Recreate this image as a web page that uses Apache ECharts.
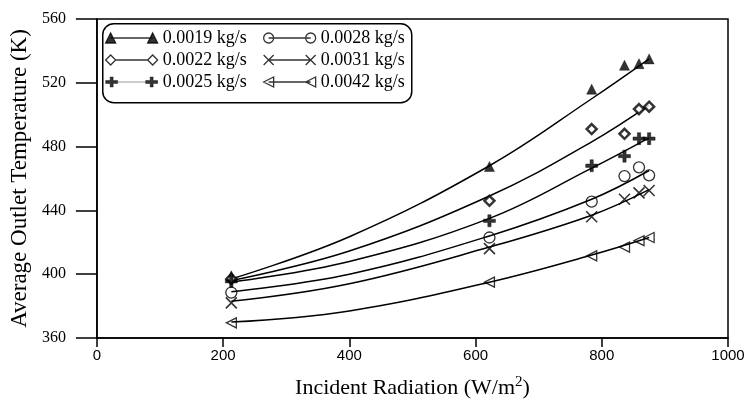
<!DOCTYPE html>
<html>
<head>
<meta charset="utf-8">
<script src="https://cdn.jsdelivr.net/npm/echarts@6/dist/echarts.min.js"></script>
<style>html,body{margin:0;padding:0;background:#fff}#c{width:753px;height:419px}</style>
</head>
<body>
<div id="c"></div>
<script>
// ---- data ----
var radiation = [213, 622, 784, 836, 859, 875];
var names = ['0.0019 kg/s', '0.0022 kg/s', '0.0025 kg/s', '0.0028 kg/s', '0.0031 kg/s', '0.0042 kg/s'];
var t0019 = [399, 467.5, 516, 531, 532, 535];
var t0022 = [397, 446, 491, 488, 503.5, 505];
var t0025 = [395.5, 433.5, 468, 474, 485, 485];
var t0028 = [388.5, 423, 445.5, 461.5, 467, 462];
var t0031 = [382, 416, 436, 447, 451, 452.5];
var t0042 = [369.5, 395, 411.5, 417, 421, 423];
// fitted curves, values
var fitX = [213, 400, 622, 784, 875];
var f0019 = [397, 423.5, 468, 510, 535];
var f0022 = [396, 414.5, 449, 483, 506];
var f0025 = [395, 408, 435, 466.5, 485.5];
var f0028 = [389, 400, 424, 447, 465];
var f0031 = [383, 394, 417, 437, 453];
var f0042 = [370, 377, 395, 412, 423];
var xTicks = [0, 200, 400, 600, 800, 1000];
var yTicks = [360, 400, 440, 480, 520, 560];

function pairs(xs, ys) { return xs.map(function (x, i) { return [x, ys[i]]; }); }

var serif = 'Liberation Serif';
var sans = 'Liberation Sans';

var markerDefs = [
  { symbol: 'triangle', size: 10, style: { color: '#000', borderColor: '#000', borderWidth: 0.5 } },
  { symbol: 'diamond', size: 10, style: { color: '#fff', borderColor: '#000', borderWidth: 2.5 } },
  { symbol: 'path://M4,0h3v4h4v3h-4v4h-3v-4h-4v-3h4z', size: 12, style: { color: '#000', borderColor: '#000', borderWidth: 0.5 } },
  { symbol: 'circle', size: 11, style: { color: 'transparent', borderColor: '#000', borderWidth: 1.3 } },
  { symbol: 'path://M0,0L10,10M10,0L0,10', size: 11, style: { color: 'transparent', borderColor: '#000', borderWidth: 1.6 } },
  { symbol: 'path://M0,5L10,0L10,10Z', size: 10, style: { color: 'transparent', borderColor: '#000', borderWidth: 1.3 } }
];
var legendIcons = [
  'path://M0,10L5,0L10,10ZM5,5L47,5M42,10L47,0L52,10Z',
  'path://M0,5L5,0L10,5L5,10ZM10,5L42,5M42,5L47,0L52,5L47,10Z',
  'path://M4.5,0h3v3.5h4.5v3h-4.5v3.5h-3v-3.5h-4.5v-3h4.5zM12,5L40,5M44.5,0h3v3.5h4.5v3h-4.5v3.5h-3v-3.5h-4.5v-3h4.5z',
  'path://M0,5a5,5 0 1,0 10,0a5,5 0 1,0 -10,0ZM5,5L47,5M42,5a5,5 0 1,0 10,0a5,5 0 1,0 -10,0Z',
  'path://M0,0L10,10M10,0L0,10M5,5L47,5M42,0L52,10M52,0L42,10',
  'path://M0,5L10,0L10,10ZM5,5L47,5M42,5L52,0L52,10Z'
];
var legendFill = ['#000', '#fff', '#000', 'transparent', 'transparent', 'transparent'];

var scatterData = [t0019, t0022, t0025, t0028, t0031, t0042];
var fitData = [f0019, f0022, f0025, f0028, f0031, f0042];

var series = [];
fitData.forEach(function (f, i) {
  series.push({
    name: 'fit ' + names[i], type: 'line', data: pairs(fitX, f), smooth: 0.4,
    showSymbol: false, silent: true, z: 1,
    lineStyle: { color: '#000', width: 1.5 }
  });
});
scatterData.forEach(function (d, i) {
  series.push({
    name: names[i], type: 'scatter', data: pairs(radiation, d), z: 3,
    symbol: markerDefs[i].symbol, symbolSize: markerDefs[i].size,
    itemStyle: markerDefs[i].style
  });
});

var legendData = names.map(function (n, i) {
  return {
    name: n, icon: legendIcons[i],
    itemStyle: { color: legendFill[i], borderColor: '#000', borderWidth: i === 2 ? 0.5 : 1.3 }
  };
});
function legendCol(items, left) {
  return {
    data: items, orient: 'vertical', left: left, top: 29,
    itemWidth: 52, itemHeight: 10, itemGap: 4, itemTextGap: 7, padding: 0,
    textStyle: { fontFamily: serif, fontSize: 18, lineHeight: 18, color: '#000' },
    selectedMode: false
  };
}

var chart = echarts.init(document.getElementById('c'), null, { renderer: 'canvas' });
chart.setOption({
  animation: false,
  backgroundColor: '#fff',
  grid: { left: 95, right: 25, top: 19, bottom: 81, show: true, borderColor: '#000', borderWidth: 1.5, backgroundColor: 'transparent' },
  legend: [legendCol(legendData.slice(0, 3), 105), legendCol(legendData.slice(3), 263)],
  graphic: [{
    type: 'rect', left: 102, top: 23, z: 10, silent: true,
    shape: { width: 309, height: 79, r: 11 },
    style: { fill: 'transparent', stroke: '#000', lineWidth: 1.5 }
  }],
  xAxis: {
    type: 'value', min: xTicks[0], max: xTicks[xTicks.length - 1], interval: xTicks[1] - xTicks[0],
    axisLine: { lineStyle: { color: '#000', width: 1.5 } },
    axisTick: { show: true, length: 9, lineStyle: { color: '#000', width: 1.5 } },
    axisLabel: { color: '#000', fontFamily: sans, fontSize: 15, margin: 10, formatter: function (v) { return String(v); } },
    splitLine: { show: false },
    name: 'Incident Radiation (W/m{sup|2})', nameLocation: 'middle', nameGap: 37,
    nameTextStyle: { color: '#000', fontFamily: serif, fontSize: 22, lineHeight: 26,
      rich: { sup: { fontFamily: serif, fontSize: 15, verticalAlign: 'top', lineHeight: 26, padding: [0, 0, 7, 0] } } }
  },
  yAxis: {
    type: 'value', min: yTicks[0], max: yTicks[yTicks.length - 1], interval: yTicks[1] - yTicks[0],
    axisLine: { lineStyle: { color: '#000', width: 1.5 } },
    axisTick: { show: true, length: 21, lineStyle: { color: '#000', width: 1.5 } },
    axisLabel: { color: '#000', fontFamily: serif, fontSize: 16, margin: 31 },
    splitLine: { show: false },
    name: 'Average Outlet Temperature (K)', nameLocation: 'middle', nameGap: 61, nameRotate: 90,
    nameTextStyle: { color: '#000', fontFamily: serif, fontSize: 23 }
  },
  series: series
});
</script>
</body>
</html>
